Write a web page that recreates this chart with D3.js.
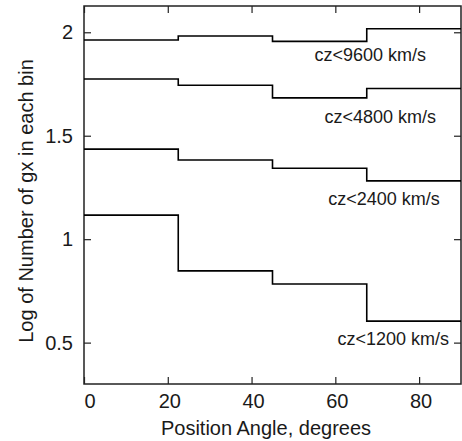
<!DOCTYPE html>
<html>
<head>
<meta charset="utf-8">
<script src="https://cdn.jsdelivr.net/npm/d3@7"></script>
<style>
  body { margin: 0; background: #fff; }
  svg text { font-family: Arial, "Liberation Sans", sans-serif; fill: #1a1a1a; }
</style>
</head>
<body>
<div id="chart"></div>
<script>
// bin edges (position angle, degrees)
var binEdges = [0, 22.5, 45, 67.5, 90];

// log of number of galaxies per bin, one array per velocity cut
var cz9600 = [1.963, 1.982, 1.956, 2.017];
var cz4800 = [1.774, 1.744, 1.683, 1.728];
var cz2400 = [1.435, 1.383, 1.343, 1.282];
var cz1200 = [1.116, 0.847, 0.783, 0.604];

var seriesNames = ['cz<9600 km/s', 'cz<4800 km/s', 'cz<2400 km/s', 'cz<1200 km/s'];
var seriesValues = [cz9600, cz4800, cz2400, cz1200];

var xTicks = [0, 20, 40, 60, 80];
var yTicks = [0.5, 1, 1.5, 2];

var width = 462, height = 441;
var margin = { left: 84, right: 1, top: 6, bottom: 57 };

// where the labels sit, in data units [angle, logN]
var labelAt = [[55, 1.861], [57.4, 1.561], [58.3, 1.165], [60.5, 0.49]];

var x = d3.scaleLinear().domain([0, 90]).range([margin.left, width - margin.right]);
var y = d3.scaleLinear().domain([0.3, 2.127]).range([height - margin.bottom, margin.top]);

var svg = d3.select('#chart').append('svg')
    .attr('width', width).attr('height', height);

// ticks on all four sides, pointing inward
function tickAxis(axisFn, scale, major, minor, transform) {
    var g = svg.append('g').attr('transform', transform);
    g.call(axisFn(scale).tickValues(minor).tickSize(-4).tickFormat(''));
    g.call(axisFn(scale).tickValues(major).tickSize(-7).tickFormat(''));
    g.selectAll('.domain').remove();
    g.selectAll('line').attr('stroke', '#222').attr('stroke-width', 1.2);
    return g;
}

var xMinor = d3.range(0, 91, 5);
var yMinor = d3.range(3, 22, 1).map(function(d) { return d / 10; });

tickAxis(d3.axisBottom, x, xTicks, xMinor, 'translate(0,' + y.range()[0] + ')');
tickAxis(d3.axisTop, x, xTicks, xMinor, 'translate(0,' + y.range()[1] + ')');
tickAxis(d3.axisLeft, y, yTicks, yMinor, 'translate(' + x.range()[0] + ',0)');
tickAxis(d3.axisRight, y, yTicks, yMinor, 'translate(' + x.range()[1] + ',0)');

// frame
svg.append('rect')
    .attr('x', x.range()[0]).attr('y', y.range()[1])
    .attr('width', x.range()[1] - x.range()[0])
    .attr('height', y.range()[0] - y.range()[1])
    .attr('fill', 'none').attr('stroke', '#222').attr('stroke-width', 1.5);

// tick labels
svg.selectAll('.xlab').data(xTicks).enter().append('text')
    .attr('class', 'xlab')
    .attr('x', function(d) { return x(d) + (d === 0 ? 6 : 2); })
    .attr('y', y.range()[0] + 24)
    .attr('text-anchor', 'middle')
    .style('font-size', '20px')
    .text(function(d) { return d; });

svg.selectAll('.ylab').data(yTicks).enter().append('text')
    .attr('class', 'ylab')
    .attr('x', x.range()[0] - 11)
    .attr('y', function(d) { return y(d) + 7; })
    .attr('text-anchor', 'end')
    .style('font-size', '20px')
    .text(function(d) { return d; });

// axis titles
svg.append('text')
    .attr('x', 266).attr('y', 435)
    .attr('text-anchor', 'middle')
    .style('font-size', '20px')
    .text('Position Angle, degrees');

svg.append('text')
    .attr('transform', 'translate(33,201) rotate(-90)')
    .attr('text-anchor', 'middle')
    .style('font-size', '20px')
    .text('Log of Number of gx in each bin');

// step histograms
var line = d3.line()
    .x(function(d) { return x(d[0]); })
    .y(function(d) { return y(d[1]); })
    .curve(d3.curveStepAfter);

seriesValues.forEach(function(vals, i) {
    var pts = binEdges.map(function(e, j) {
        return [e, vals[Math.min(j, vals.length - 1)]];
    });
    svg.append('path')
        .attr('d', line(pts))
        .attr('fill', 'none')
        .attr('stroke', '#000')
        .attr('stroke-width', 1.6);

    svg.append('text')
        .attr('x', x(labelAt[i][0]))
        .attr('y', y(labelAt[i][1]))
        .style('font-size', '18px')
        .text(seriesNames[i]);
});
</script>
</body>
</html>
